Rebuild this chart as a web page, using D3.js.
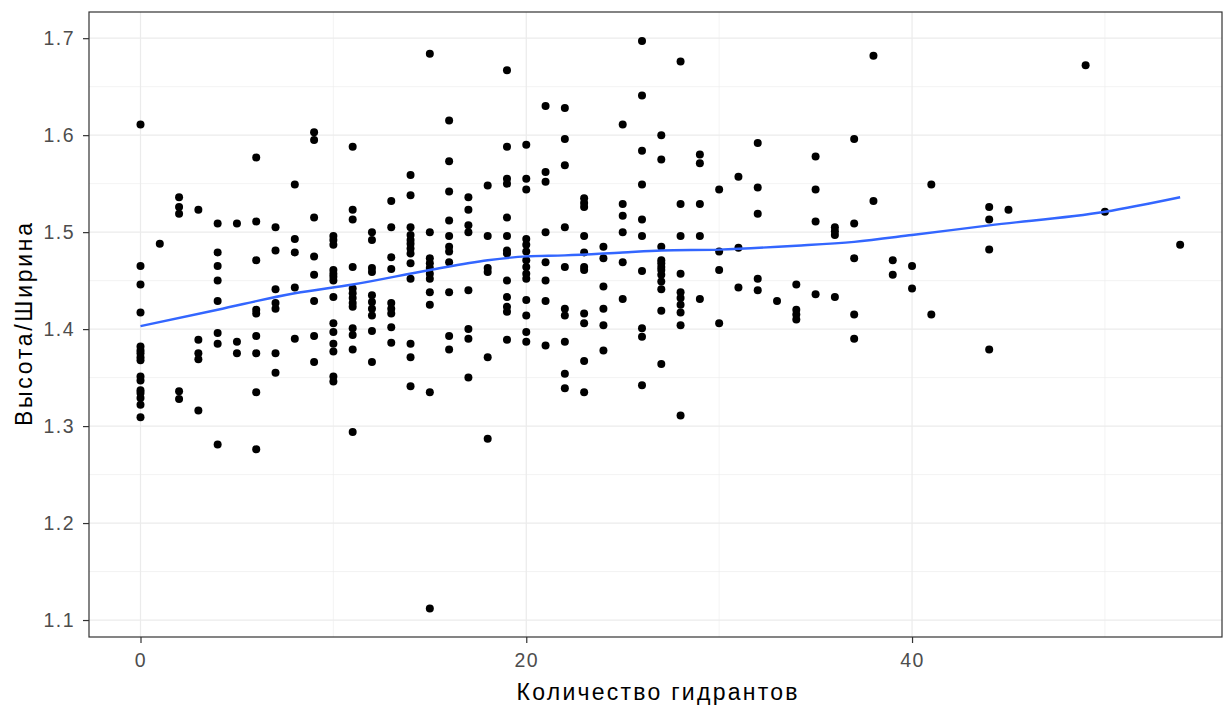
<!DOCTYPE html>
<html>
<head>
<meta charset="utf-8">
<script src="https://cdn.jsdelivr.net/npm/d3@7"></script>
<style>
  body { margin: 0; background: #fff; }
  svg { font-family: "Liberation Sans", Arial, sans-serif; }
</style>
</head>
<body>
<svg id="chart"></svg>
<script>
// Количество гидрантов (x columns) and Высота/Ширина values
const columnX = [0, 1, 2, 3, 4, 5, 6, 7, 8, 9, 10, 11, 12, 13, 14, 15, 16, 17, 18, 19, 20,
  21, 22, 23, 24, 25, 26, 27, 28, 29, 30, 31, 32, 33, 34, 35, 36, 37, 38, 39, 40, 41,
  44, 45, 49, 50, 53.9];
const columnY = [
  [1.611, 1.465, 1.446, 1.417, 1.382, 1.378, 1.375, 1.371, 1.368, 1.351, 1.347, 1.337, 1.334, 1.329, 1.322, 1.309],
  [1.488],
  [1.536, 1.526, 1.519, 1.336, 1.328],
  [1.523, 1.389, 1.375, 1.369, 1.316],
  [1.509, 1.479, 1.465, 1.450, 1.429, 1.396, 1.385, 1.281],
  [1.509, 1.387, 1.375],
  [1.577, 1.511, 1.471, 1.420, 1.416, 1.393, 1.375, 1.335, 1.276],
  [1.505, 1.481, 1.441, 1.427, 1.421, 1.375, 1.355],
  [1.549, 1.493, 1.479, 1.443, 1.390],
  [1.603, 1.595, 1.515, 1.475, 1.456, 1.429, 1.393, 1.366],
  [1.496, 1.492, 1.487, 1.461, 1.457, 1.454, 1.450, 1.433, 1.406, 1.397, 1.385, 1.377, 1.351, 1.346],
  [1.588, 1.523, 1.513, 1.464, 1.442, 1.437, 1.432, 1.427, 1.423, 1.401, 1.394, 1.379, 1.294],
  [1.500, 1.492, 1.463, 1.459, 1.435, 1.428, 1.421, 1.414, 1.398, 1.366],
  [1.532, 1.505, 1.474, 1.462, 1.427, 1.421, 1.416, 1.402, 1.386],
  [1.559, 1.538, 1.505, 1.497, 1.492, 1.488, 1.483, 1.478, 1.468, 1.452, 1.385, 1.371, 1.341],
  [1.684, 1.500, 1.473, 1.468, 1.463, 1.457, 1.452, 1.438, 1.425, 1.335, 1.112],
  [1.615, 1.573, 1.542, 1.512, 1.496, 1.485, 1.480, 1.469, 1.438, 1.393, 1.379],
  [1.536, 1.523, 1.507, 1.500, 1.440, 1.400, 1.390, 1.350],
  [1.548, 1.496, 1.463, 1.459, 1.371, 1.287],
  [1.667, 1.588, 1.555, 1.550, 1.515, 1.496, 1.481, 1.478, 1.450, 1.433, 1.423, 1.418, 1.389],
  [1.590, 1.555, 1.544, 1.493, 1.487, 1.480, 1.471, 1.464, 1.457, 1.452, 1.430, 1.414, 1.397, 1.387],
  [1.630, 1.562, 1.552, 1.500, 1.469, 1.450, 1.429, 1.383],
  [1.628, 1.596, 1.569, 1.505, 1.464, 1.421, 1.414, 1.387, 1.354, 1.339],
  [1.535, 1.530, 1.526, 1.496, 1.479, 1.464, 1.461, 1.416, 1.406, 1.367, 1.335],
  [1.485, 1.473, 1.444, 1.421, 1.404, 1.378],
  [1.611, 1.529, 1.517, 1.500, 1.469, 1.431],
  [1.697, 1.641, 1.584, 1.549, 1.513, 1.496, 1.460, 1.401, 1.392, 1.342],
  [1.600, 1.575, 1.485, 1.471, 1.468, 1.464, 1.461, 1.456, 1.449, 1.441, 1.419, 1.364],
  [1.676, 1.529, 1.496, 1.457, 1.438, 1.432, 1.425, 1.417, 1.404, 1.311],
  [1.580, 1.571, 1.529, 1.496, 1.431],
  [1.544, 1.480, 1.461, 1.406],
  [1.557, 1.484, 1.443],
  [1.592, 1.546, 1.519, 1.452, 1.440],
  [1.429],
  [1.446, 1.420, 1.415, 1.410],
  [1.578, 1.544, 1.511, 1.436],
  [1.505, 1.501, 1.497, 1.433],
  [1.596, 1.509, 1.473, 1.415, 1.390],
  [1.682, 1.532],
  [1.471, 1.456],
  [1.465, 1.442],
  [1.549, 1.415],
  [1.526, 1.513, 1.482, 1.379],
  [1.523],
  [1.672],
  [1.521],
  [1.487]
];

// loess smooth as it appears in the picture
const smoothX = [0, 4, 8, 11, 15, 18, 20, 22, 25, 27, 30, 34, 37, 40, 44, 50, 53.9];
const smoothY = [1.403, 1.420, 1.437, 1.446, 1.461, 1.471, 1.475, 1.476, 1.479, 1.481, 1.482, 1.486, 1.490, 1.497, 1.507, 1.521, 1.536];

const xTicks = [0, 20, 40];
const xMinor = [10, 30, 50];
const yTicks = [1.1, 1.2, 1.3, 1.4, 1.5, 1.6, 1.7];
const yMinor = [1.15, 1.25, 1.35, 1.45, 1.55, 1.65];

const width = 1224, height = 708;
const panel = { left: 89, right: 1222, top: 12, bottom: 637 };

const data = [];
columnX.forEach((x, i) => columnY[i].forEach(y => data.push({ x: x, y: y })));

const x = d3.scaleLinear().domain([-2.67, 56.07]).range([panel.left, panel.right]);
const y = d3.scaleLinear().domain([1.0825, 1.727]).range([panel.bottom, panel.top]);

const svg = d3.select('#chart').attr('width', width).attr('height', height);

svg.append('rect')
    .attr('x', panel.left).attr('y', panel.top)
    .attr('width', panel.right - panel.left).attr('height', panel.bottom - panel.top)
    .style('fill', '#fff');

// grid
const grid = svg.append('g');
grid.selectAll('.xminor').data(xMinor).enter().append('line')
    .attr('x1', d => x(d)).attr('x2', d => x(d))
    .attr('y1', panel.top).attr('y2', panel.bottom)
    .style('stroke', '#ebebeb').style('stroke-width', 0.6);
grid.selectAll('.yminor').data(yMinor).enter().append('line')
    .attr('y1', d => y(d)).attr('y2', d => y(d))
    .attr('x1', panel.left).attr('x2', panel.right)
    .style('stroke', '#ebebeb').style('stroke-width', 0.6);
grid.selectAll('.xmajor').data(xTicks).enter().append('line')
    .attr('x1', d => x(d)).attr('x2', d => x(d))
    .attr('y1', panel.top).attr('y2', panel.bottom)
    .style('stroke', '#ebebeb').style('stroke-width', 1.2);
grid.selectAll('.ymajor').data(yTicks).enter().append('line')
    .attr('y1', d => y(d)).attr('y2', d => y(d))
    .attr('x1', panel.left).attr('x2', panel.right)
    .style('stroke', '#ebebeb').style('stroke-width', 1.2);

// points
svg.append('g').selectAll('circle')
    .data(data)
    .enter().append('circle')
    .attr('cx', d => x(d.x))
    .attr('cy', d => y(d.y))
    .attr('r', 4)
    .style('fill', '#000');

// smooth line
const line = d3.line().x((d, i) => x(smoothX[i])).y(d => y(d)).curve(d3.curveMonotoneX);
svg.append('path')
    .datum(smoothY)
    .attr('d', line)
    .style('fill', 'none')
    .style('stroke', '#3366ff')
    .style('stroke-width', 2.4);

// panel border
svg.append('rect')
    .attr('x', panel.left).attr('y', panel.top)
    .attr('width', panel.right - panel.left).attr('height', panel.bottom - panel.top)
    .style('fill', 'none').style('stroke', '#333').style('stroke-width', 1.2);

// axes
const xAxis = svg.append('g')
    .attr('transform', 'translate(0,' + panel.bottom + ')')
    .call(d3.axisBottom(x).tickValues(xTicks).tickSize(6).tickPadding(10).tickFormat(d3.format('d')));
const yAxis = svg.append('g')
    .attr('transform', 'translate(' + panel.left + ',0)')
    .call(d3.axisLeft(y).tickValues(yTicks).tickSize(6).tickPadding(8).tickFormat(d3.format('.1f')));

[xAxis, yAxis].forEach(a => {
    a.select('.domain').remove();
    a.selectAll('line').style('stroke', '#333').style('stroke-width', 1.2);
    a.selectAll('text').style('fill', '#4d4d4d').style('font-size', '19.5px')
        .style('letter-spacing', '1.5px')
        .style('font-family', '"Liberation Sans", Arial, sans-serif');
});

svg.append('text')
    .attr('x', 657)
    .attr('y', 700)
    .attr('text-anchor', 'middle')
    .attr('textLength', 281)
    .attr('lengthAdjust', 'spacing')
    .style('font-size', '23px')
    .style('fill', '#000')
    .text('Количество гидрантов');

svg.append('text')
    .attr('transform', 'translate(32,' + (panel.top + panel.bottom) / 2 + ') rotate(-90)')
    .attr('text-anchor', 'middle')
    .attr('textLength', 203)
    .attr('lengthAdjust', 'spacing')
    .style('font-size', '23px')
    .style('fill', '#000')
    .text('Высота/Ширина');
</script>
</body>
</html>
